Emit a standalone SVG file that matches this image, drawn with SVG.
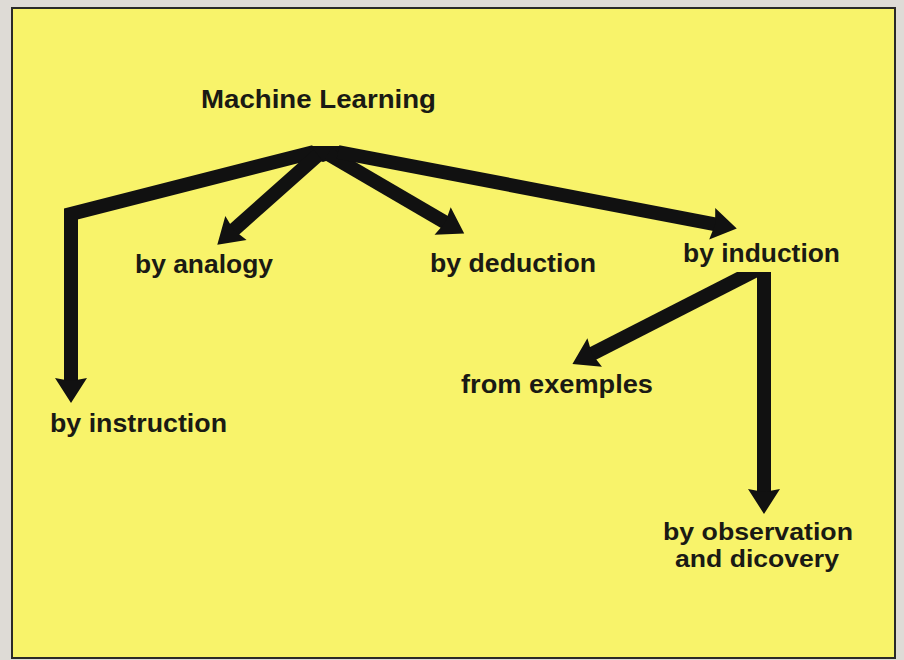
<svg xmlns="http://www.w3.org/2000/svg" width="904" height="660" viewBox="0 0 904 660">
<style>
.lbl{font-family:"Liberation Sans",Arial,sans-serif;font-weight:bold;font-size:26px;fill:#1a1a14}
.sm{font-size:24px}
.con{fill:none;stroke:#111;stroke-width:14;stroke-linejoin:miter;stroke-linecap:butt;marker-end:url(#ah)}
</style>
<defs>
<marker id="ah" markerUnits="userSpaceOnUse" viewBox="-14 -17 28 34" refX="0" refY="0" markerWidth="28" markerHeight="34" orient="auto">
<path d="M13,0 L-12,-16 L-9,0 L-12,16 Z" fill="#111"/>
</marker>
<clipPath id="below"><rect x="0" y="272" width="904" height="388"/></clipPath>
</defs>
<rect x="0" y="0" width="904" height="660" fill="#dedbd6"/>
<rect x="12" y="8" width="883" height="650" fill="#f8f36a" stroke="#2a2a28" stroke-width="2"/>
<g id="connectors">
<polygon points="311,146 341,146 338,157 323,162 309,157" fill="#111"/>
<path class="con" d="M314,152 L71,214 L71,390"/>
<path class="con" d="M318,155 L227,236"/>
<path class="con" d="M328,154 L453,227"/>
<path class="con" d="M338,152 L724,226"/>
<path class="con" d="M764,272 L764,501"/>
<path class="con" d="M770,263 L584,358" clip-path="url(#below)"/>
</g>
<g id="n-ml"><text class="lbl" x="201" y="108" textLength="235" lengthAdjust="spacingAndGlyphs">Machine Learning</text></g>
<g id="n-analogy"><text class="lbl" x="135" y="273" textLength="138" lengthAdjust="spacingAndGlyphs">by analogy</text></g>
<g id="n-deduction"><text class="lbl" x="430" y="272" textLength="166" lengthAdjust="spacingAndGlyphs">by deduction</text></g>
<g id="n-induction"><text class="lbl" x="683" y="262" textLength="157" lengthAdjust="spacingAndGlyphs">by induction</text></g>
<g id="n-instruction"><text class="lbl" x="50" y="432" textLength="177" lengthAdjust="spacingAndGlyphs">by instruction</text></g>
<g id="n-exemples"><text class="lbl" x="461" y="393" textLength="192" lengthAdjust="spacingAndGlyphs">from exemples</text></g>
<g id="n-observation"><text class="lbl sm" x="663" y="540" textLength="190" lengthAdjust="spacingAndGlyphs">by observation</text><text class="lbl sm" x="675" y="567" textLength="164" lengthAdjust="spacingAndGlyphs">and dicovery</text></g>
</svg>
